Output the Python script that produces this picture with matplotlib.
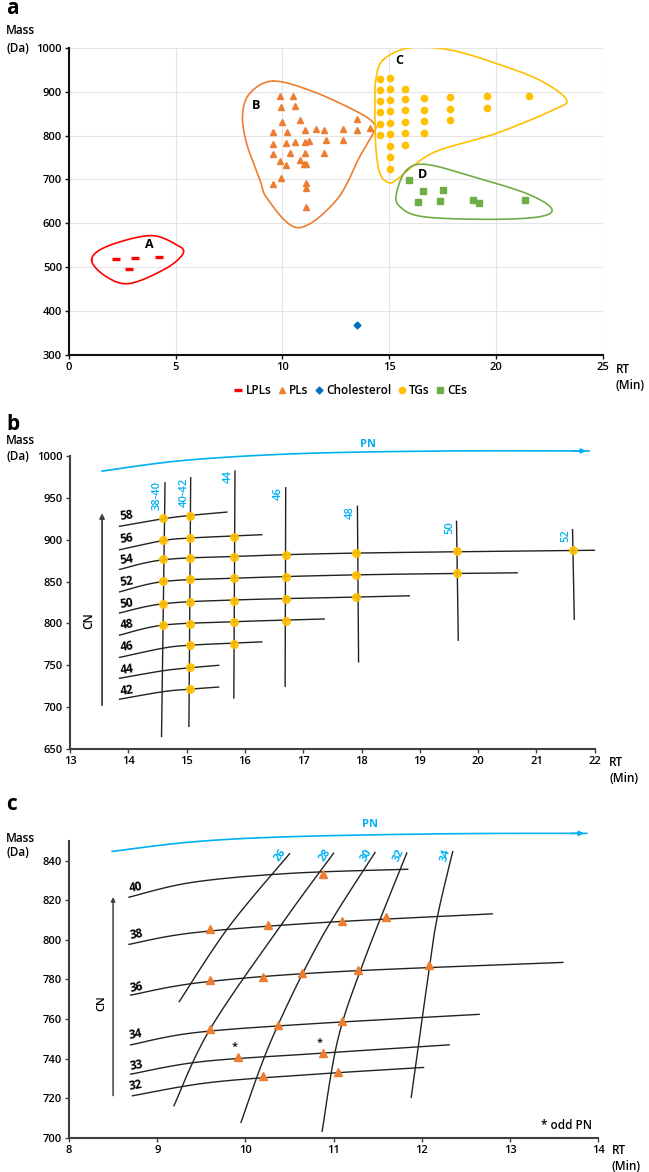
import numpy as np
import matplotlib.pyplot as plt
from matplotlib.lines import Line2D

plt.rcParams['font.family'] = ['Open Sans', 'DejaVu Sans']
plt.rcParams['font.weight'] = 'semibold'

W, H = 649, 1172
BLUE = '#00B0F0'
ORANGE = '#ED7D31'
YELLOW = '#FFC000'
GREEN = '#70AD47'
AXCOL = '#404040'

# ---------------- panel a data ----------------
lpl_rt = [2.2, 3.1, 2.8, 4.2]
lpl_mass = [519, 522, 495, 524]

pl_rt = [9.89, 10.48, 9.91, 10.58, 9.97, 10.84, 9.56, 10.22, 11.07, 11.57, 11.95, 12.84,
         13.47, 13.47, 14.11, 9.56, 10.16, 10.59, 11.07, 11.23, 12.04, 12.82, 9.56, 10.33,
         11.06, 11.95, 9.87, 10.84, 10.16, 11.03, 11.12, 9.56, 9.92, 11.11, 11.11, 11.11]
pl_mass = [889, 891, 865, 867, 831, 836, 808, 809, 812, 814, 813, 815,
           813, 838, 818, 781, 783, 785, 785, 787, 790, 789, 757, 759,
           760, 760, 743, 744, 733, 735, 736, 690, 704, 692, 680, 637]

chol_rt = [13.5]
chol_mass = [368]

tg_rt = [14.56] * 6 + [15.02] * 9 + [15.76] * 6 + [16.65] * 4 + [17.87] * 3 + [19.58] * 2 + [21.57]
tg_mass = [929, 903, 879, 853, 827, 801,
           931, 905, 881, 855, 829, 803, 777, 750, 724,
           907, 883, 857, 831, 805, 778,
           885, 859, 833, 806,
           887, 860, 835,
           889, 863,
           891]

ce_rt = [15.92, 16.56, 17.54, 16.34, 17.38, 18.94, 19.21, 21.34]
ce_mass = [698, 674, 676, 649, 650, 652, 646, 654]

# hand-drawn group outlines (rt, mass)
outline_a = [(1.06, 516), (1.76, 547), (3.79, 572), (5.04, 551), (5.35, 532),
             (4.57, 498), (2.86, 463), (1.76, 478)]
outline_b = [(9.56, 924), (11.44, 900), (13.62, 851), (14.33, 824), (14.25, 805),
             (13.62, 752), (12.53, 653), (10.74, 590), (9.33, 653), (8.94, 699),
             (8.32, 782), (8.13, 847), (8.47, 896)]
outline_c = [(14.71, 972), (15.96, 1000), (17.84, 995), (20.02, 964), (22.05, 926),
             (23.30, 882), (22.67, 858), (20.02, 805), (17.37, 767), (16.28, 737),
             (15.34, 699), (14.95, 693), (14.56, 714), (14.37, 775), (14.33, 866),
             (14.37, 926)]
outline_d = [(15.81, 721), (16.75, 734), (18.93, 706), (21.43, 668), (22.60, 634),
             (22.05, 615), (19.71, 609), (16.59, 615), (15.50, 638), (15.34, 668)]
group_labels = ['A', 'B', 'C', 'D']
group_label_pos = [(3.75, 551), (8.74, 869), (15.48, 970), (16.54, 712)]

# ---------------- panel b data ----------------
tgb_rt = [14.60] * 6 + [15.06] * 9 + [15.81] * 6 + [16.70] * 4 + [17.91] * 3 + [19.63] * 2 + [21.63]
tgb_mass = [926, 900, 876.5, 850.5, 823.4, 797.7,
            928, 902, 878, 852.5, 825.4, 799.4, 774, 747.4, 722,
            903.7, 879.7, 854, 827.3, 801.4, 775.4,
            881.7, 856, 829.7, 803.4,
            884, 858, 831.5,
            886.5, 860,
            888]
cn_b = ['58', '56', '54', '52', '50', '48', '46', '44', '42']
cn_b_label_mass = [929, 901, 876.5, 850.5, 824, 798, 772, 745.4, 719.4]
cn_b_lines = [
    [(13.85, 916), (14.6, 925), (15.06, 929), (15.69, 933)],
    [(13.85, 888), (14.6, 899), (15.06, 902), (15.81, 904.5), (16.29, 906)],
    [(13.85, 864.5), (14.6, 876), (15.81, 880), (17.9, 884), (22.12, 887.5)],
    [(13.85, 837.7), (14.6, 850), (15.81, 854), (17.9, 858), (20.67, 860.5)],
    [(13.85, 812.5), (14.6, 823.5), (15.81, 828), (17.9, 831.5), (18.82, 833)],
    [(13.85, 786), (14.6, 798), (15.81, 802), (16.7, 804), (17.36, 805.3)],
    [(13.85, 759.4), (14.6, 770.5), (15.06, 774), (15.81, 776.5), (16.29, 778)],
    [(13.85, 734.5), (14.6, 743.5), (15.06, 747), (15.55, 750)],
    [(13.85, 709.5), (14.6, 718.5), (15.06, 721.5), (15.55, 724)],
]
pn_b = ['38-40', '40-42', '44', '46', '48', '50', '52']
pn_b_lines = [
    [(14.57, 665), (14.63, 968)],
    [(15.04, 677), (15.07, 974)],
    [(15.81, 711), (15.83, 982)],
    [(16.69, 725), (16.70, 962)],
    [(17.95, 754), (17.93, 940)],
    [(19.66, 780), (19.63, 922)],
    [(21.65, 805), (21.62, 912)],
]
pn_b_label_pos = [(14.50, 953), (14.96, 957), (15.72, 975), (16.57, 955),
                  (17.80, 933), (19.52, 915), (21.51, 905)]
pn_arrow_b = [(13.55, 982), (15.0, 995), (17.0, 1003), (19.5, 1006), (21.9, 1006)]

# ---------------- panel c data ----------------
plc_rt = [9.60, 10.26, 11.10, 11.59, 10.88,
          9.60, 10.20, 10.64, 11.28, 12.08,
          9.60, 10.37, 11.10,
          9.92, 10.88,
          10.20, 11.05]
plc_mass = [805.6, 807.6, 809.4, 811.4, 833.3,
            779.5, 781.3, 783.2, 784.9, 787.3,
            755.2, 756.9, 759.1,
            741.1, 743.1,
            731.4, 733.1]
odd_rt = [9.88, 10.84]
odd_mass = [745.5, 747.5]
cn_c = ['40', '38', '36', '34', '33', '32']
cn_c_label_mass = [826.3, 802.7, 775.8, 752.3, 736.4, 726.3]
cn_c_lines = [
    [(8.68, 821.5), (9.4, 829), (10.5, 833.5), (11.84, 835.6)],
    [(8.68, 797.7), (9.4, 803.5), (10.8, 808.5), (12.80, 813.1)],
    [(8.70, 772.1), (9.5, 778.5), (11.0, 783.8), (13.60, 788.6)],
    [(8.70, 747), (9.4, 753), (10.6, 757.2), (12.65, 762.4)],
    [(8.70, 732.2), (9.5, 738.5), (10.8, 742.6), (12.31, 747)],
    [(8.72, 721.3), (9.6, 728), (10.8, 732.2), (12.02, 735.6)],
]
pn_c = ['26', '28', '30', '32', '34']
pn_c_lines = [
    [(9.25, 768.8), (9.81, 806.4), (10.50, 843.4)],
    [(9.19, 716.3), (9.60, 755), (10.42, 808.4), (11.0, 843.7)],
    [(9.95, 707.9), (10.3, 750), (10.85, 800), (11.47, 844.1)],
    [(10.87, 703.4), (11.05, 750), (11.35, 790), (11.83, 843.8)],
    [(11.88, 720.5), (12.09, 787.2), (12.18, 812.3), (12.35, 844.5)],
]
pn_c_label_pos = [(10.40, 842.5), (10.90, 842.5), (11.38, 842.5), (11.74, 842.5), (12.27, 842.5)]
pn_c_label_rot = [53, 55, 60, 66, 76]
pn_arrow_c = [(8.49, 844.6), (9.4, 849.4), (10.5, 852), (12.3, 853.5), (13.87, 853.7)]


def catmull(pts, n=25, closed=False):
    p = np.asarray(pts, float)
    if closed:
        P = np.vstack([p[-1], p, p[0], p[1]])
    else:
        P = np.vstack([p[0], p, p[-1]])
    t = np.linspace(0, 1, n, endpoint=False)[:, None]
    segs = []
    for i in range(1, len(P) - 2):
        p0, p1, p2, p3 = P[i - 1], P[i], P[i + 1], P[i + 2]
        segs.append(0.5 * (2 * p1 + (-p0 + p2) * t + (2 * p0 - 5 * p1 + 4 * p2 - p3) * t ** 2
                           + (-p0 + 3 * p1 - 3 * p2 + p3) * t ** 3))
    segs.append(P[-2][None, :])
    return np.vstack(segs)


def style_axis(ax, col):
    for s in ['top', 'right']:
        ax.spines[s].set_visible(False)
    for s in ['left', 'bottom']:
        ax.spines[s].set_color(col)
        ax.spines[s].set_linewidth(1.5)
    ax.tick_params(direction='out', length=3, width=1, color=col, labelsize=8, pad=2)


def blue_arrow(ax, pts):
    c = catmull(pts)
    ax.plot(c[:, 0], c[:, 1], color=BLUE, lw=1.2, clip_on=False)
    ax.annotate('', xy=c[-1], xytext=c[-6], annotation_clip=False,
                arrowprops=dict(arrowstyle='-|>', color=BLUE, lw=1.2, mutation_scale=7))


fig = plt.figure(figsize=(W / 100, H / 100), dpi=100)

# ================= panel a =================
ax = fig.add_axes([69 / W, 1 - 355 / H, 533.7 / W, 307.3 / H])
ax.set_xlim(0, 25)
ax.set_ylim(300, 1000)
ax.set_xticks(range(0, 26, 5))
ax.set_yticks(range(300, 1001, 100))
ax.grid(True, color='#E4E4E4', lw=0.8)
ax.set_axisbelow(True)
style_axis(ax, '#111111')

for pts, col in zip([outline_a, outline_b, outline_c, outline_d], ['#FF0000', ORANGE, YELLOW, GREEN]):
    c = catmull(pts, closed=True)
    ax.plot(c[:, 0], c[:, 1], color=col, lw=1.2)
for lab, (x, y) in zip(group_labels, group_label_pos):
    ax.text(x, y, lab, fontsize=9, fontweight='bold', ha='center', va='center')

ax.plot(lpl_rt, lpl_mass, ls='none', marker='_', ms=6, mew=2.4, color='#FF0000')
ax.plot(pl_rt, pl_mass, ls='none', marker='^', ms=5, color=ORANGE)
ax.plot(chol_rt, chol_mass, ls='none', marker='D', ms=3.5, color='#0070C0')
ax.plot(tg_rt, tg_mass, ls='none', marker='o', ms=4.5, color=YELLOW)
ax.plot(ce_rt, ce_mass, ls='none', marker='s', ms=4.5, color=GREEN)

handles = [Line2D([], [], ls='none', marker='_', ms=6, mew=2.4, color='#FF0000'),
           Line2D([], [], ls='none', marker='^', ms=5, color=ORANGE),
           Line2D([], [], ls='none', marker='D', ms=3.5, color='#0070C0'),
           Line2D([], [], ls='none', marker='o', ms=4.5, color=YELLOW),
           Line2D([], [], ls='none', marker='s', ms=4.5, color=GREEN)]
fig.legend(handles, ['LPLs', 'PLs', 'Cholesterol', 'TGs', 'CEs'], ncol=5, frameon=False,
           loc='center', bbox_to_anchor=(351 / W, 1 - 391 / H), fontsize=8.5,
           handlelength=0.6, handletextpad=0.3, columnspacing=0.6, borderaxespad=0)

fig.text(6 / W, 1 - 9 / H, 'a', fontsize=15, fontweight='bold', va='center')
fig.text(6 / W, 1 - 30 / H, 'Mass', fontsize=8.5, va='center')
fig.text(6 / W, 1 - 48 / H, '(Da)', fontsize=8.5, va='center')
fig.text(616 / W, 1 - 369 / H, 'RT', fontsize=8.5, va='center')
fig.text(616 / W, 1 - 385 / H, '(Min)', fontsize=8.5, va='center')

# ================= panel b =================
ax = fig.add_axes([70 / W, 1 - 749 / H, 524.7 / W, 293 / H])
ax.set_xlim(13, 22)
ax.set_ylim(650, 1000)
ax.set_xticks(range(13, 23))
ax.set_yticks(range(650, 1001, 50))
style_axis(ax, AXCOL)

for pts in cn_b_lines:
    c = catmull(pts)
    ax.plot(c[:, 0], c[:, 1], color='#222222', lw=1)
for pts in pn_b_lines:
    p = np.asarray(pts)
    ax.plot(p[:, 0], p[:, 1], color='#222222', lw=1)
ax.plot(tgb_rt, tgb_mass, ls='none', marker='o', ms=5.5, color=YELLOW, alpha=0.9)
for lab, y in zip(cn_b, cn_b_label_mass):
    ax.text(13.97, y, lab, fontsize=8.5, fontweight='bold', ha='center', va='center', rotation=8)
for lab, (x, y) in zip(pn_b, pn_b_label_pos):
    ax.text(x, y, lab, fontsize=8, color=BLUE, ha='center', va='center', rotation=90)
blue_arrow(ax, pn_arrow_b)
ax.text(18.12, 1014, 'PN', fontsize=8, color=BLUE, fontweight='bold', ha='center', va='center',
        clip_on=False)
ax.annotate('', xy=(13.55, 935), xytext=(13.55, 699),
            arrowprops=dict(arrowstyle='-|>', color=AXCOL, lw=1.3, mutation_scale=7))
ax.text(13.33, 803, 'CN', fontsize=8.5, rotation=90, ha='center', va='center')

fig.text(6 / W, 1 - 425 / H, 'b', fontsize=15, fontweight='bold', va='center')
fig.text(6 / W, 1 - 440 / H, 'Mass', fontsize=8.5, va='center')
fig.text(6 / W, 1 - 456 / H, '(Da)', fontsize=8.5, va='center')
fig.text(609 / W, 1 - 763 / H, 'RT', fontsize=8.5, va='center')
fig.text(609 / W, 1 - 779 / H, '(Min)', fontsize=8.5, va='center')

# ================= panel c =================
ax = fig.add_axes([69 / W, 1 - 1138 / H, 529.2 / W, 297.3 / H])
ax.set_xlim(8, 14)
ax.set_ylim(700, 850)
ax.set_xticks(range(8, 15))
ax.set_yticks(range(700, 841, 20))
style_axis(ax, AXCOL)

for pts in cn_c_lines:
    c = catmull(pts)
    ax.plot(c[:, 0], c[:, 1], color='#222222', lw=1)
for pts in pn_c_lines:
    c = catmull(pts)
    ax.plot(c[:, 0], c[:, 1], color='#222222', lw=1)
ax.plot(plc_rt, plc_mass, ls='none', marker='^', ms=6, color=ORANGE)
for x, y in zip(odd_rt, odd_mass):
    ax.text(x, y, '*', fontsize=8, ha='center', va='center')
for lab, y in zip(cn_c, cn_c_label_mass):
    ax.text(8.76, y, lab, fontsize=8.5, fontweight='bold', ha='center', va='center', rotation=10)
for lab, (x, y), r in zip(pn_c, pn_c_label_pos, pn_c_label_rot):
    ax.text(x, y, lab, fontsize=8, color=BLUE, fontweight='bold', ha='center', va='center',
            rotation=r)
blue_arrow(ax, pn_arrow_c)
ax.text(11.41, 858, 'PN', fontsize=8, color=BLUE, fontweight='bold', ha='center', va='center',
        clip_on=False)
ax.annotate('', xy=(8.5, 823), xytext=(8.5, 720),
            arrowprops=dict(arrowstyle='-|>', color=AXCOL, lw=1.1, mutation_scale=6))
ax.text(8.37, 768, 'CN', fontsize=8, rotation=90, ha='center', va='center')
ax.text(13.93, 706.5, '* odd PN', fontsize=8.5, ha='right', va='center')

fig.text(6 / W, 1 - 805 / H, 'c', fontsize=15, fontweight='bold', va='center')
fig.text(6 / W, 1 - 838 / H, 'Mass', fontsize=8.5, va='center')
fig.text(6 / W, 1 - 853 / H, '(Da)', fontsize=8.5, va='center')
fig.text(612 / W, 1 - 1151 / H, 'RT', fontsize=8.5, va='center')
fig.text(612 / W, 1 - 1166 / H, '(Min)', fontsize=8.5, va='center')

fig.savefig('out.png', dpi=100)
